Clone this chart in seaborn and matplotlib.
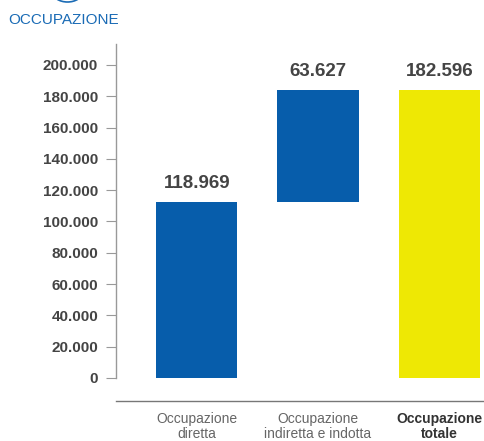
import numpy as np
import pandas as pd
import matplotlib
matplotlib.use("Agg")
import matplotlib.pyplot as plt
import seaborn as sns
from matplotlib.patches import Ellipse

# data
categories = ["Occupazione\ndiretta", "Occupazione\nindiretta e indotta", "Occupazione\ntotale"]
bar_bottom = [0, 112500, 0]
bar_top = [112500, 184000, 184000]
value_labels = ["118.969", "63.627", "182.596"]
bar_colors = ["#075DAB", "#075DAB", "#EEE804"]
yticks = [0, 20000, 40000, 60000, 80000, 100000, 120000, 140000, 160000, 180000, 200000]

sns.set_theme(style="white")
plt.rcParams["font.family"] = ["Liberation Sans", "DejaVu Sans"]

df = pd.DataFrame({
    "cat": categories,
    "height": np.array(bar_top) - np.array(bar_bottom),
})

fig = plt.figure(figsize=(4.84, 4.41), dpi=100)
ax = fig.add_axes([115.7 / 484, 1 - 401 / 441, 1 - 115.7 / 484, (401 - 44) / 441])

sns.barplot(data=df, x="cat", y="height", order=categories, bottom=bar_bottom,
            width=0.67, color=bar_colors[0], saturation=1, ax=ax)
for patch, c in zip(ax.patches, bar_colors):
    patch.set_facecolor(c)
    patch.set_edgecolor("none")

ax.set_xlim(-0.668, 2.368)
ax.set_ylim(-14700, 213400)
ax.set_xlabel("")
ax.set_ylabel("")

# value labels above bars
for i, lab in enumerate(value_labels):
    ax.annotate(lab, (i, bar_top[i]), xytext=(0, 7.5), textcoords="offset points",
                ha="center", va="bottom", fontsize=13.5, fontweight="bold", color="#444444")

ax.set_yticks(yticks)
ax.set_yticklabels([f"{v:,}".replace(",", ".") for v in yticks],
                   fontsize=11, fontweight="bold", color="#444444")
ax.tick_params(axis="y", left=True, length=7.2, width=0.8, color="#999999", pad=5.5)
ax.tick_params(axis="x", bottom=False, pad=2)
ax.set_xticks(range(len(categories)))
ax.set_xticklabels(categories, fontsize=10, color="#666666", linespacing=1.05)
ax.get_xticklabels()[2].set_fontweight("bold")
ax.get_xticklabels()[2].set_color("#333333")

for s in ["top", "right"]:
    ax.spines[s].set_visible(False)
ax.spines["left"].set_bounds(0, 213400)
ax.spines["left"].set_color("#999999")
ax.spines["left"].set_linewidth(1.0)
ax.spines["bottom"].set_color("#777777")
ax.spines["bottom"].set_linewidth(1.0)

# header
fig.text(8 / 484, 1 - 20.5 / 441, "OCCUPAZIONE", fontsize=11, color="#1A6BB5",
         ha="left", va="center")
fig.add_artist(Ellipse((67.5 / 484, 1 + 8 / 441), 30 / 484, 20 / 441,
                       transform=fig.transFigure, fill=False, edgecolor="#1A6BB5",
                       linewidth=1.2, clip_on=False))

fig.savefig("out.png", dpi=100)
